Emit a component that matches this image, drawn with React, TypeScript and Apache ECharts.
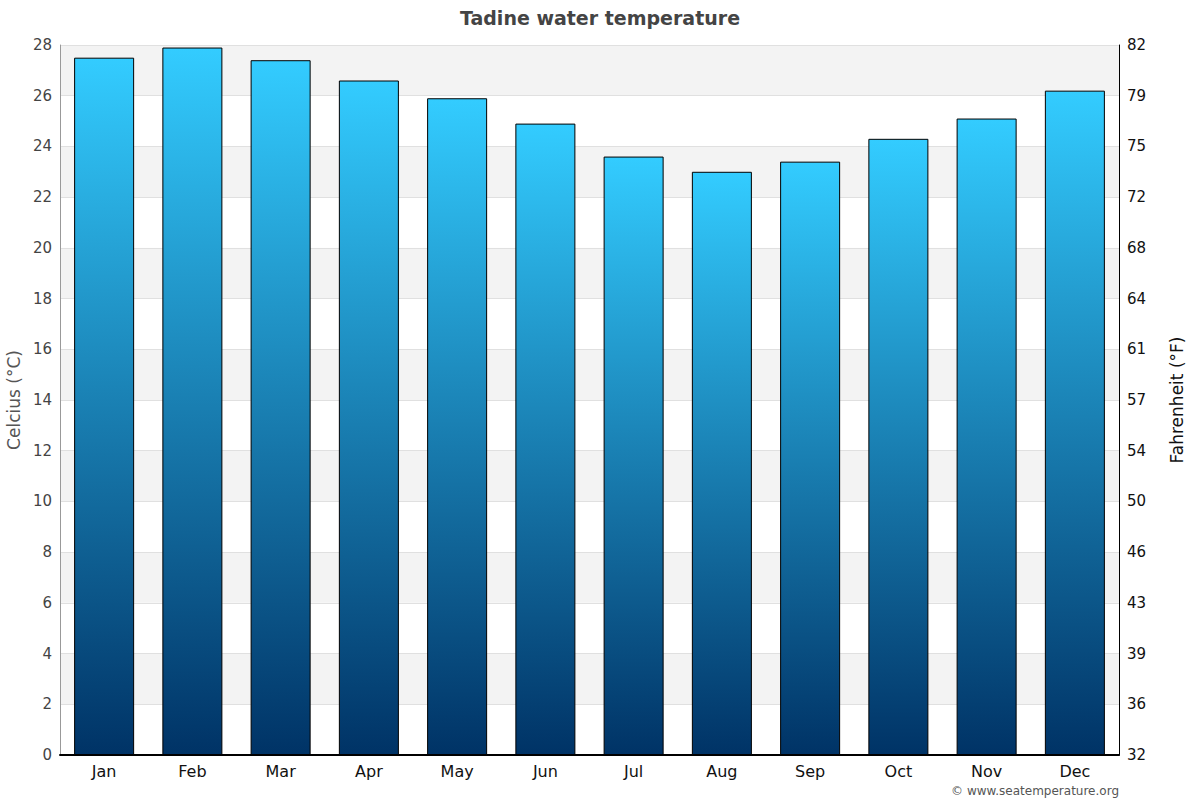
import React, { useEffect, useRef } from "react";
import * as echarts from "echarts";

const months = ["Jan", "Feb", "Mar", "Apr", "May", "Jun", "Jul", "Aug", "Sep", "Oct", "Nov", "Dec"];
const waterTempC = [27.5, 27.9, 27.4, 26.6, 25.9, 24.9, 23.6, 23.0, 23.4, 24.3, 25.1, 26.2];
const titleText = "Tadine water temperature";
const leftAxisName = "Celcius (°C)";
const rightAxisName = "Fahrenheit (°F)";
const creditText = "© www.seatemperature.org";

export default function App() {
  const ref = useRef<HTMLDivElement>(null);
  useEffect(() => {
    if (!ref.current) return;
    const chart = echarts.init(ref.current, null, { renderer: "svg" });
    const font = "DejaVu Sans";
    chart.setOption({
      animation: false,
      backgroundColor: "#ffffff",
      textStyle: { fontFamily: font },
      title: {
        text: titleText,
        left: "center",
        top: 3,
        textStyle: { fontFamily: font, fontSize: 19, fontWeight: "bold", color: "#444444" },
      },
      graphic: [
        {
          type: "text",
          right: 81,
          top: 785,
          style: { text: creditText, font: `12px ${font}`, fill: "#555555" },
        },
      ],
      grid: { left: 60, right: 81, top: 45, bottom: 45, containLabel: false, outerBoundsMode: "none" },
      xAxis: {
        type: "category",
        data: months,
        axisLine: { show: true, lineStyle: { color: "#000000", width: 2 } },
        axisTick: { show: false },
        axisLabel: { color: "#111111", fontSize: 16, margin: 8, fontFamily: font },
      },
      yAxis: [
        {
          type: "value",
          min: 0,
          max: 28,
          interval: 2,
          name: leftAxisName,
          nameLocation: "middle",
          nameGap: 37,
          nameTextStyle: { color: "#555555", fontSize: 17, fontFamily: font },
          axisLine: { show: true, lineStyle: { color: "#999999", width: 1 } },
          axisTick: { show: false },
          axisLabel: { color: "#444444", fontSize: 15, margin: 8, fontFamily: font },
          splitLine: { show: true, lineStyle: { color: "#e0e0e0", width: 1 } },
          splitArea: { show: true, areaStyle: { color: ["#ffffff", "#f3f3f3"] } },
        },
        {
          type: "value",
          min: 0,
          max: 28,
          interval: 2,
          position: "right",
          name: rightAxisName,
          nameLocation: "middle",
          nameGap: 49,
          nameRotate: 90,
          nameTextStyle: { color: "#111111", fontSize: 17, fontFamily: font },
          axisLine: { show: true, lineStyle: { color: "#000000", width: 1 } },
          axisTick: { show: false },
          axisLabel: {
            color: "#111111",
            fontSize: 15,
            margin: 8,
            fontFamily: font,
            formatter: (v: number) => String(Math.round(v * 1.8 + 32)),
          },
          splitLine: { show: false },
        },
      ],
      series: [
        {
          type: "bar",
          data: waterTempC,
          barWidth: "68%",
          itemStyle: {
            color: new echarts.graphic.LinearGradient(0, 0, 0, 1, [
              { offset: 0, color: "#33ccff" },
              { offset: 1, color: "#003366" },
            ]),
            borderColor: "#000000",
            borderWidth: 1,
          },
        },
      ],
    });
    return () => chart.dispose();
  }, []);
  return <div ref={ref} style={{ width: 1200, height: 800, position: "absolute", left: 0, top: 0 }} />;
}
